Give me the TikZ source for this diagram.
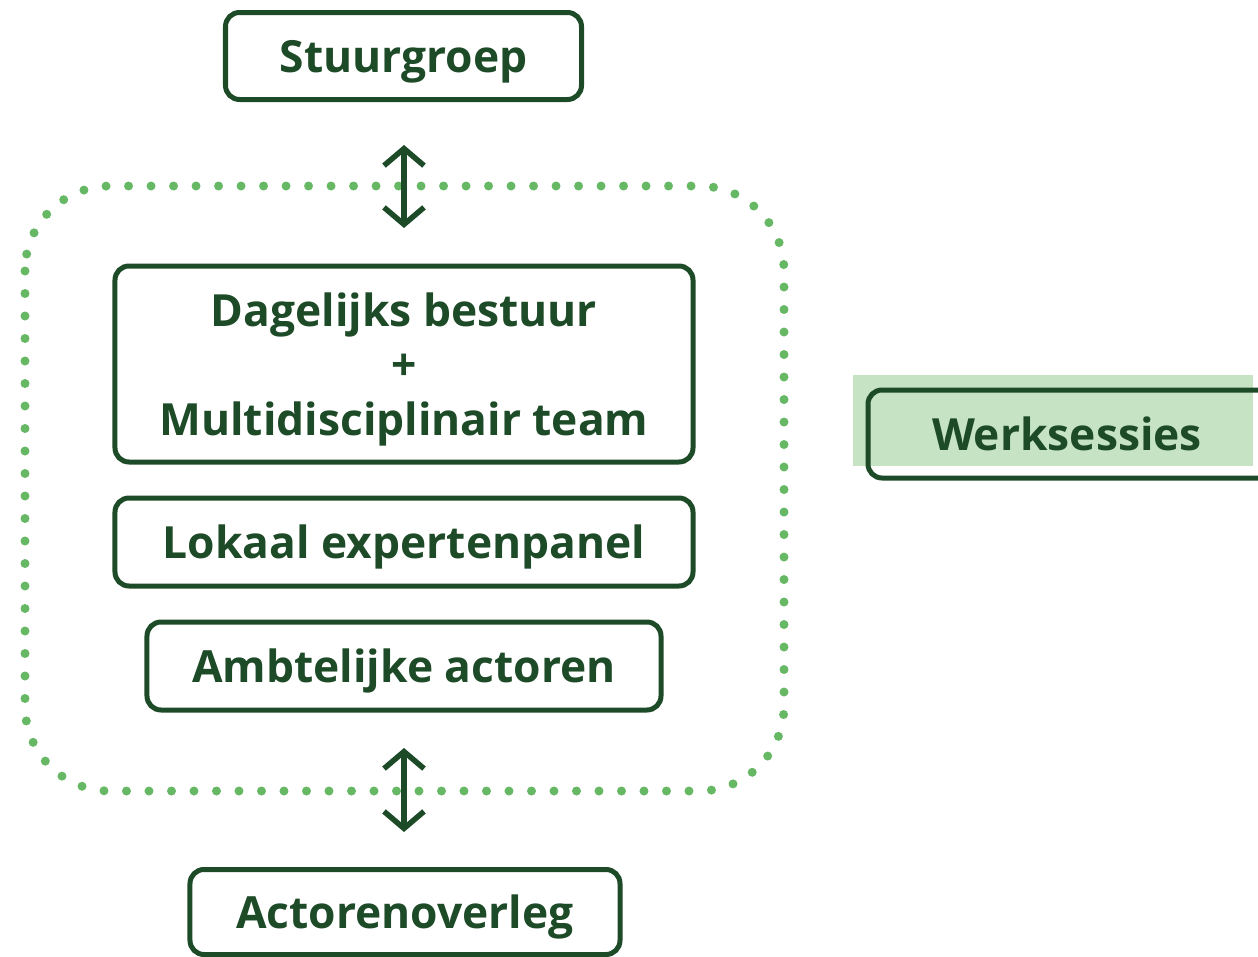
\documentclass[tikz,border=0pt]{standalone}
\usepackage{fontspec}
\setmainfont{Open Sans}
\usetikzlibrary{arrows.meta}
\definecolor{dgreen}{HTML}{1D4A27}
\definecolor{dotgreen}{HTML}{66B865}
\definecolor{lgreen}{HTML}{C6E4C4}
\tikzset{
  lbl/.style={text=dgreen, font=\bfseries\fontsize{44.5}{52}\selectfont, inner sep=0pt},
  box/.style={lbl, draw=dgreen, line width=5bp, rounded corners=14bp, text height=33bp, text depth=0bp},
  dblarrow/.style={draw=dgreen, line width=5.5bp, {Straight Barb[length=17bp,width=40bp]}-{Straight Barb[length=17bp,width=40bp]}},
  dotframe/.style={draw=dotgreen, line width=9bp, line cap=round, dash pattern=on 0bp off 22.5bp, rounded corners=85bp}
}
\begin{document}
\begin{tikzpicture}[x=1bp,y=-1bp]
\useasboundingbox (0,0) rectangle (1258,957);
\clip (0,0) rectangle (1258,957);
% dotted frame
\draw[dotframe] (25,186) rectangle (784,791);
% boxes
\node[box, minimum width=356bp, minimum height=87bp] (stuur) at (403.5,56) {Stuurgroep};
\node[box, minimum width=578bp, minimum height=196bp] (dag) at (404,364) {};
\node[lbl] (dag1) at (404,315) {Dagelijks bestuur};
\node[lbl] (plus) at (404,367) {+};
\node[lbl] (dag2) at (404,424) {Multidisciplinair team};
\node[box, minimum width=578bp, minimum height=88bp] (lok) at (404,542) {Lokaal expertenpanel};
\node[box, minimum width=514bp, minimum height=88bp] (amb) at (404,666) {Ambtelijke actoren};
\node[box, minimum width=430bp, minimum height=85bp] (act) at (405,912) {Actorenoverleg};
% Werksessies
\fill[lgreen] (853,375) rectangle (1253,466);
\node[box, minimum width=420bp, minimum height=88bp, text width=420bp, align=left] (werk) at (1078,434) {\hspace*{64bp}Werksessies};
% arrows
\coordinate (a1) at (404,145);
\coordinate (a2) at (404,228);
\coordinate (b1) at (404,748);
\coordinate (b2) at (404,832);
\draw[dblarrow] (a1) -- (a2);
\draw[dblarrow] (b1) -- (b2);
\end{tikzpicture}
\end{document}
